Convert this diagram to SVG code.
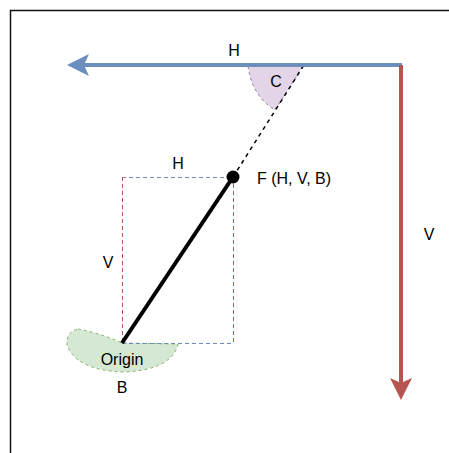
<svg xmlns="http://www.w3.org/2000/svg" width="449" height="453" viewBox="0 0 449 453">
<defs>
<style>
text{font-family:"Liberation Sans",Arial,sans-serif;font-size:16px;fill:#000}
.dash{fill:none;stroke-width:1;stroke-dasharray:4 3}
</style>
</defs>
<rect x="0" y="0" width="449" height="453" fill="#fff"/>
<path d="M10.5 460 V10.5 H460" fill="none" stroke="#111" stroke-width="1.5"/>
<g id="sectorC">
<path d="M248 66 Q252 96 275 110 L303 66 Z" fill="#e1d5e7" stroke="#9673a6" stroke-dasharray="3 3" stroke-width="1"/>
<text x="276" y="87" text-anchor="middle">C</text>
</g>
<g id="origin">
<path d="M78 329 Q100 333 122 343 L178 344 Q172 370 123 372 Q76 370 67 345 Q66 332 78 329 Z" fill="#d5e8d4" stroke="#82b366" stroke-dasharray="3 3" stroke-width="1"/>
<text x="122" y="365" text-anchor="middle">Origin</text>
</g>
<g id="connectors">
<line x1="122" y1="177.5" x2="233" y2="177.5" class="dash" stroke="#6c8ebf"/>
<line x1="122" y1="343.5" x2="233" y2="343.5" class="dash" stroke="#6c8ebf"/>
<line x1="122.5" y1="177" x2="122.5" y2="343" class="dash" stroke="#b85450"/>
<line x1="233.5" y1="177" x2="233.5" y2="343" class="dash" stroke="#b85450"/>
<line x1="233" y1="177" x2="304" y2="65" fill="none" stroke="#000" stroke-width="1.5" stroke-dasharray="4 4"/>
<line x1="122" y1="343" x2="233" y2="177" stroke="#000" stroke-width="4"/>
<line x1="402" y1="65" x2="84" y2="65" stroke="#6c8ebf" stroke-width="4"/>
<path d="M67 65 L89 54 L84 65 L89 76 Z" fill="#6c8ebf"/>
<line x1="401" y1="65" x2="401" y2="383" stroke="#b85450" stroke-width="4"/>
<path d="M401 400 L390 378 L401 383 L412 378 Z" fill="#b85450"/>
</g>
<g id="F">
<circle cx="233" cy="177" r="6.5" fill="#000"/>
<text x="257" y="184">F (H, V, B)</text>
</g>
<g id="labels">
<text x="234" y="56" text-anchor="middle">H</text>
<text x="429" y="240" text-anchor="middle">V</text>
<text x="178" y="169" text-anchor="middle">H</text>
<text x="108" y="268" text-anchor="middle">V</text>
<text x="122" y="393" text-anchor="middle">B</text>
</g>
</svg>
